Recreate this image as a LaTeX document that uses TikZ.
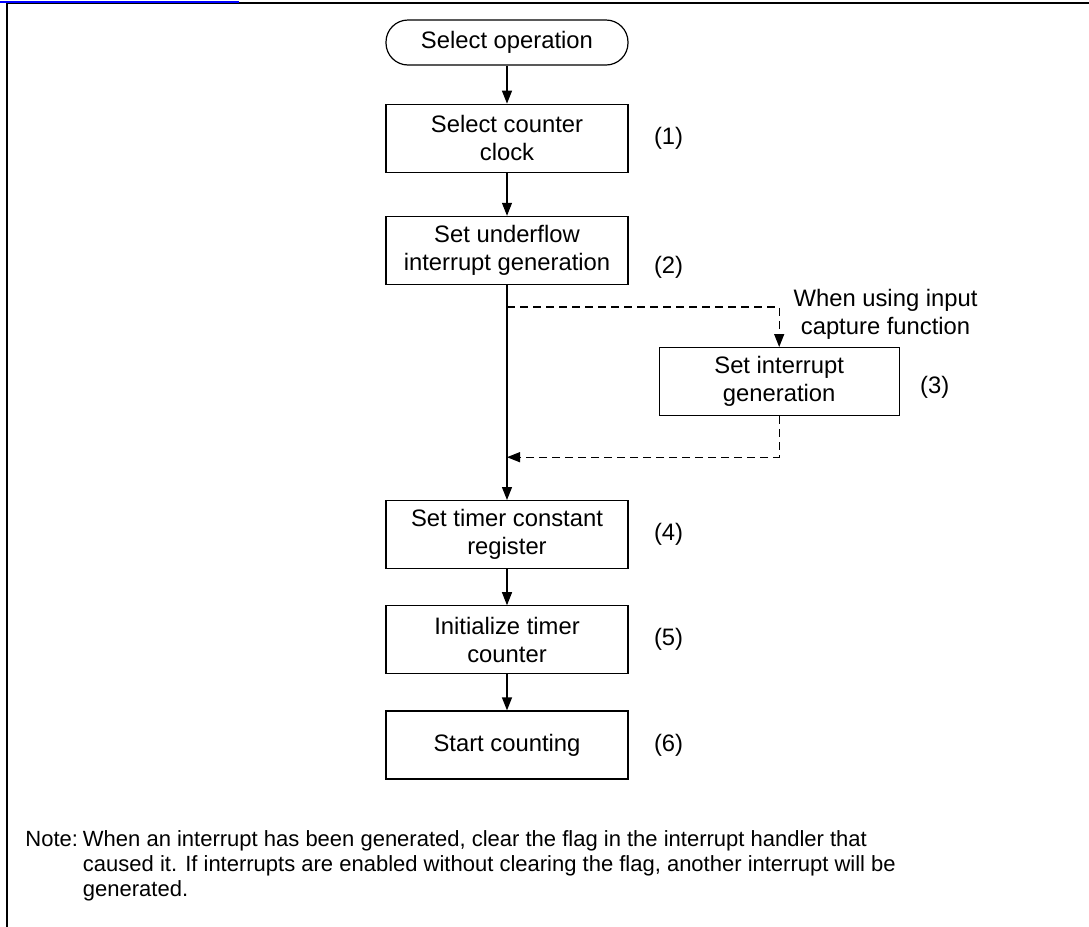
\documentclass[tikz,border=0pt]{standalone}
\usepackage{fontspec}
\setmainfont{Liberation Sans}
\usetikzlibrary{arrows.meta, positioning}

\begin{document}
\begin{tikzpicture}[
  x=0.5pt, y=-0.5pt,
  font=\fontsize{11.9}{14}\selectfont,
  proc/.style={rectangle, draw, line width=0.6pt, minimum width=121pt, minimum height=34pt, align=center, inner sep=2pt},
  term/.style={proc, rounded corners=11pt, minimum height=22.5pt},
  tag/.style={inner sep=0pt},
  notetext/.style={inner sep=0pt, font=\fontsize{11}{12.5}\selectfont},
  flow/.style={-{Triangle[length=6.5pt, width=5pt]}, line width=0.6pt},
  dflow/.style={flow, dash pattern=on 4pt off 2.5pt}
]
\useasboundingbox (0,0) rectangle (1089,927);
\draw[line width=1pt] (1089,3) -- (6.7,3) -- (6.7,927);
\draw[blue, line width=1pt] (0,2) -- (239,2);

\node[term] (start) at (507,42.5) {Select operation};
\node[proc, below=19pt of start] (clk) {Select counter\\clock};
\node[proc, below=21.5pt of clk] (ufl) {Set underflow\\interrupt generation};
\node[proc, below right=31pt and 15pt of ufl.south east, minimum width=120pt] (icap) {Set interrupt\\generation};
\node[proc, below=107.5pt of ufl] (tcr) {Set timer constant\\register};
\node[proc, below=18pt of tcr] (tcnt) {Initialize timer\\counter};
\node[proc, below=18pt of tcnt] (run) {Start counting};

\node[tag, right=12.5pt of clk] (n1) {(1)};
\node[tag, right=12.5pt of ufl, yshift=-8.5pt] (n2) {(2)};
\node[tag, right=10pt of icap, yshift=-3pt] (n3) {(3)};
\node[tag, right=12.5pt of tcr] (n4) {(4)};
\node[tag, right=12.5pt of tcnt] (n5) {(5)};
\node[tag, right=12.5pt of run] (n6) {(6)};

\coordinate[below=11pt of ufl.south] (split);
\coordinate[below=20.5pt of icap.south] (join);
\coordinate (bend) at (split -| icap.north);
\node[tag, align=center, right=7pt of bend, yshift=-3.5pt] (cond) {When using input\\capture function};

\draw[flow] (start) -- (clk);
\draw[flow] (clk) -- (ufl);
\draw[flow] (ufl) -- (tcr);
\draw[dflow] (split) -| (icap.north);
\draw[dflow] (icap.south) |- (ufl.south |- join);
\draw[flow] (tcr) -- (tcnt);
\draw[flow] (tcnt) -- (run);

% note below the chart
\node[notetext, anchor=north west] (note) at (25,829) {%
  \begin{tabular}{@{}l@{\hspace{2.5pt}}l@{}}
    Note: & When an interrupt has been generated, clear the flag in the interrupt handler that\\
          & caused it. If interrupts are enabled without clearing the flag, another interrupt will be\\
          & generated.
  \end{tabular}};
\end{tikzpicture}
\end{document}
